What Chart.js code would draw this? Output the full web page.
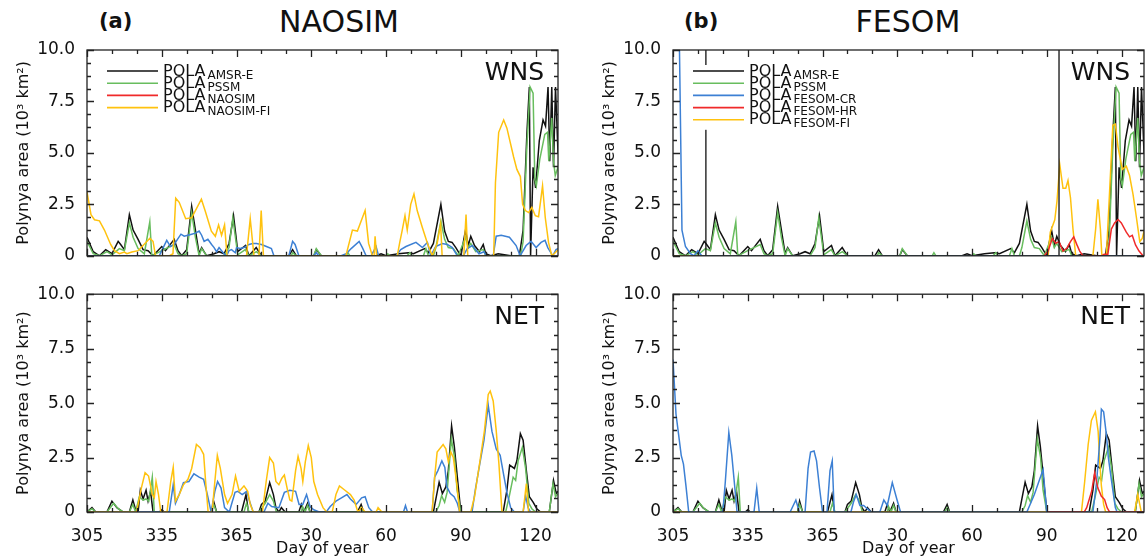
<!DOCTYPE html>
<html>
<head>
<meta charset="utf-8">
<title>Polynya area - NAOSIM / FESOM</title>
<script src="https://cdn.jsdelivr.net/npm/chart.js@4.4.1/dist/chart.umd.min.js"></script>
<style>
  html, body { margin: 0; padding: 0; background: #fff; }
  body { position: relative; width: 1145px; height: 558px; overflow: hidden; font-family: 'DejaVu Sans', sans-serif; color: #111; }
  canvas { position: absolute; }
  .head { position: absolute; white-space: nowrap; line-height: 1; }
</style>
</head>
<body>
<div class="head" style="left:99px; top:11px; font-size:21px; font-weight:bold;">(a)</div>
<div class="head" style="left:339px; top:7px; font-size:30px; transform:translateX(-50%);">NAOSIM</div>
<div class="head" style="left:684px; top:11px; font-size:21px; font-weight:bold;">(b)</div>
<div class="head" style="left:908px; top:7px; font-size:30px; transform:translateX(-50%);">FESOM</div>

<canvas id="naosimWns" width="563" height="270" style="left:0; top:0;"></canvas>
<canvas id="naosimNet" width="563" height="278" style="left:0; top:280px;"></canvas>
<canvas id="fesomWns" width="563" height="270" style="left:586px; top:0;"></canvas>
<canvas id="fesomNet" width="563" height="278" style="left:586px; top:280px;"></canvas>

<script>
// Day counter runs on from 305 (Nov) past 365 into the next year, so 395 = day 30
const dayTicks = [305, 335, 365, 395, 425, 455, 485];
const areaTicks = [0, 2.5, 5, 7.5, 10];
const dayMin = 305;
const dayMax = 494;

// Observations [day, area in 10^3 km2], same in both columns
const wnsAmsrE = [[305,0.9],[307.5,0.2],[310,0],[312.5,0.3],[315,0.1],[317.5,0.7],[318.5,0.55],[320,0.3],[322,2.0],[323.5,1.25],[325.5,0.8],[327.5,0.3],[329.5,0.25],[331.5,0],[335,0.45],[336.5,0.25],[340,0.8],[341.5,0.25],[343,0],[345,0.3],[347,2.4],[348.5,1.25],[350,0.1],[351,0.4],[353,0],[356,0.1],[358,0.2],[360,0.1],[362,0.6],[363.8,1.95],[365.5,0.2],[368.6,0.5],[370,0],[372.9,0.4],[375,0],[386,0],[387.5,0.3],[389,0],[396,0],[397,0.3],[399,0],[421,0],[423,0.1],[425,0],[430,0.1],[434,0.15],[436,0.1],[440.5,0.35],[442,0.15],[444,0.6],[447,2.5],[448.5,1.2],[450,0.7],[451.5,0.65],[453,0.4],[455,0],[456.9,1.25],[458,0.5],[459,0.95],[460.5,0.5],[462.5,0.2],[464,0.55],[465,0.1],[467,0],[470,0.1],[475,0],[478.5,0],[480,1.25],[481.5,5.9],[482.5,8.2],[483,0],[484,4.3],[485,3.3],[486.5,5.6],[488,6.6],[489,6.3],[490,8.2],[490.7,4.6],[491.5,8.2],[492.2,4.3],[493,8.2],[494,5.0]];
const wnsPssm = [[305,0.7],[307.5,0.1],[310,0],[313,0.2],[315,0.05],[318,0.35],[320,0.25],[322,1.6],[323.5,0.9],[325.5,0.35],[328,0.1],[330.2,1.65],[331,0],[335,0.25],[340,0.55],[341.5,0.1],[343,0],[345,0.1],[347,2.1],[348.5,0.9],[350,0],[351,0.35],[353,0],[360,0],[362,0.4],[363.5,1.85],[365.5,0.05],[368.5,0.3],[370,0],[373,0.2],[375,0],[387,0],[387.5,0.15],[389,0],[396,0],[397,0.35],[399,0],[409,0],[409.7,0.15],[410.5,0],[425,0],[425.7,0.1],[426.5,0],[433.5,0],[434.5,0.15],[435.5,0],[440,0],[441,0.35],[442,0],[444,0],[445,0.4],[447,1.7],[448.5,0.8],[450,0.4],[452,0.35],[454,0],[456.9,0.9],[458,0.4],[459,0.6],[461,0.2],[464,0.3],[465,0],[479,0],[480,0.7],[481.5,5.3],[482.8,8.2],[484,7.9],[484.7,3.7],[485.3,3.4],[486.7,4.7],[488.7,5.9],[489.8,6.0],[490.3,4.6],[491.5,6.7],[492.2,4.6],[492.9,3.9],[494,4.3]];
const netAmsrE = [[305,0],[307,0.2],[308.5,0],[313,0],[315,0.5],[317,0.2],[319.5,0],[322,0],[323.4,0.55],[324.5,0.1],[325.5,0],[326.4,1.0],[327.5,0.6],[328.7,1.0],[329.5,0.5],[330.5,0.95],[331.5,0],[334,0],[335,0.1],[336,0],[355,0],[355.8,0.5],[357,0],[367,0],[368.8,0.8],[369.8,0],[374,0],[375,0.35],[376.5,0.5],[378.3,1.35],[379.8,0.8],[380.8,0.2],[382,0],[383,0.2],[384.5,0],[390,0],[391,0.35],[392,0],[393.5,0.4],[394.5,0],[413.5,0],[415,0.35],[416,0],[444,0],[445,0.6],[446.3,1.37],[447.6,0.85],[449,1.15],[450,1.9],[451.3,3.95],[452.4,3.0],[453.6,1.6],[455,0],[472,0],[473.5,1.0],[474.6,2.15],[476.5,2.0],[477.5,2.35],[478.9,3.6],[480,3.3],[481.3,1.9],[482.5,0.7],[484,0.45],[485.5,0.15],[487,0],[490.5,0],[492.2,1.45],[493.3,0.85],[494,0.95]];
const netPssm = [[305,0],[307,0.15],[308.5,0],[313,0],[315.7,0.4],[317.5,0.15],[319.5,0],[322,0],[323.4,0.35],[324.5,0],[326,0.7],[327.5,0.55],[328.7,0.6],[329.8,0.5],[331.2,1.6],[332,0],[355,0],[355.8,0.35],[357,0],[368,0],[369,0.4],[370,0],[374,0],[376.5,0.4],[378.3,0.8],[379.8,0.5],[381,0],[391,0],[391.5,0.25],[392.5,0],[393.5,0.3],[394.5,0],[414,0],[415,0.2],[416,0],[445,0],[446.3,0.3],[447.3,0.75],[448.5,0.45],[449.5,0.9],[451.2,3.35],[452.5,2.5],[453.5,1.0],[455,0],[473,0],[474.5,0.75],[476,1.6],[477,1.45],[478,2.35],[479.7,2.97],[481,2.0],[482.3,0.4],[483.5,0.15],[485,0],[490.5,0],[492,1.3],[493,0.7],[494,0.85]];

// NAOSIM
const wnsNaosim = [[305,0],[334,0],[335,0.25],[337,0.75],[338.5,0.45],[340,0.55],[341.3,0.8],[342.7,1.05],[344,0.95],[345.5,1.0],[347,1.05],[348.5,1.1],[350,1.2],[351,1.0],[352,0.7],[353.5,0.8],[355,0.55],[356,0.4],[357,0.2],[358,0.4],[359,0.25],[360,0.1],[361,0],[362,0.25],[363,0.3],[364.5,0.15],[365,0.4],[366.5,0.35],[368,0.4],[370,0.55],[371.5,0.6],[373,0.6],[375,0.55],[377,0.45],[379,0.35],[380,0],[386,0],[387.5,0.7],[388.5,0.55],[390,0],[396,0],[397,0.15],[398,0],[407,0],[409,0.1],[411,0.35],[414.2,0.7],[415.5,0.4],[417,0],[419,0],[421,0.45],[422,0],[429,0],[430.9,0.3],[433,0.45],[437,0.65],[439.6,0.4],[441.6,0.65],[442.9,0],[444.9,0.45],[447.6,0.6],[449.6,0.55],[451.6,0.4],[453.6,0],[456,0],[457.6,0.35],[459.6,0.5],[462.3,0.1],[464.3,0.2],[465.2,0],[468,0],[469.2,0.95],[471.2,1.0],[474.5,0.9],[477.2,0.5],[478.8,0],[481.2,0.5],[483.2,0.7],[485.2,0.4],[487.2,0.65],[488.8,0.75],[489.9,0.4],[491.9,0],[493.2,0.3],[494,0.35]];
const wnsNaosimFi = [[305,3.1],[306.6,2.0],[308,1.75],[310,1.7],[312,1.25],[314.5,0.55],[316,0.25],[318,0.1],[320,0.18],[321,0.1],[323,0.18],[325.5,0.25],[327.5,0.5],[330.2,0.85],[331.5,0.7],[332.5,0],[338,0],[339.5,0.1],[340.6,2.8],[342,2.6],[344.6,1.8],[347,1.85],[350.9,2.75],[352.5,2.15],[354.9,1.2],[356.5,0.95],[357.8,1.5],[359,1.0],[360.2,1.5],[361.2,0],[369,0],[370.5,1.8],[372,0],[374,0],[374.9,2.2],[375.8,0],[408.9,0],[411.5,1.25],[413.5,1.2],[415.5,1.85],[416.6,2.2],[418,0.6],[419.5,0],[420.2,0],[420.6,0.95],[421.2,0],[429.5,0],[430.5,0.65],[431.5,1.25],[432.6,1.95],[433.5,1.25],[434.9,2.5],[436.2,3.0],[437.5,2.2],[439.5,1.4],[441.5,0.65],[443.5,0],[445.5,0.6],[446.9,1.55],[447.5,0],[456.2,0],[457.1,2.0],[457.8,0],[468.2,0],[468.9,3.55],[470.2,6.0],[472.2,6.6],[473.5,6.2],[476.2,4.8],[477.5,4.2],[478.9,3.85],[479.8,2.5],[480.9,2.2],[482.2,2.1],[483.5,2.35],[484.9,1.95],[486.2,1.9],[487.8,3.4],[488.9,1.85],[490.2,0.65],[491.5,0],[492.9,0.15],[494,0.3]];
const netNaosim = [[305,0],[338,0],[339.6,1.25],[340.5,0.4],[342,0.8],[343.7,1.35],[345.9,1.4],[347.9,1.75],[350,1.6],[351.8,1.5],[353.3,0.8],[354.8,0],[356.3,0.95],[357.4,1.4],[358.8,1.1],[360.2,0.2],[362.1,0],[364.4,0.9],[365.5,0.95],[367.3,0.8],[369.1,0.95],[370.2,0.5],[371.7,0],[376,0],[377.6,0.4],[379.1,0.25],[382,0.2],[384.2,0.9],[386.4,1.0],[388.7,0.95],[390.1,0.35],[391.6,0.35],[393.1,0.8],[394.5,0.25],[396,0.1],[398.2,0],[401,0],[402.6,0.25],[404.9,0.5],[407.1,0.65],[409.3,0.8],[410.7,0.6],[413,0.35],[415.2,0.65],[416.6,0.7],[418.1,0.2],[419.6,0],[432,0],[432.8,0.3],[433.6,0],[443.5,0],[444.5,1.6],[445.8,1.9],[447.4,2.35],[448.6,2.05],[449.4,1.15],[450.8,0.85],[452.3,0.7],[453.6,0.4],[454.6,0],[459.5,0],[460.8,1.0],[462.3,2.0],[464.3,3.3],[466,4.9],[467.5,3.7],[469.2,2.9],[470.8,2.6],[472.2,1.7],[473.5,0.9],[475,0.2],[476.5,0],[480,0],[481,0.75],[482,0.2],[483,0],[494,0]];
const netNaosimFi = [[305,0],[324.9,0],[326.8,1.1],[328.3,1.8],[329.7,1.65],[331.2,0.8],[332,0.65],[332.7,1.4],[333.7,0.8],[334.6,0],[337.1,0],[338.6,1.4],[339.6,2.05],[340.5,0.5],[342,0.8],[343.7,1.25],[345.5,1.5],[347,2.0],[348.9,3.1],[350.4,2.95],[351.8,2.65],[352.6,1.4],[353.6,0],[355.2,0],[356.3,1.4],[357.3,2.6],[358.5,2.0],[360.2,0.8],[361.4,0.4],[363.2,0.8],[364.6,1.65],[366.1,0.95],[368,1.2],[369.5,0.95],[370.5,0.35],[371.7,0],[375.4,0],[376.9,1.4],[378.3,2.5],[379.8,2.25],[380.8,1.4],[382,1.25],[383.2,1.55],[384.2,1.7],[385.3,1.1],[386.4,0.55],[387.2,0.5],[388.7,1.9],[389.7,2.55],[390.9,2.0],[391.6,1.4],[392.6,2.3],[393.8,3.05],[395,2.5],[396,1.4],[397.5,0.8],[399.7,0.2],[401.2,0],[403.4,0],[404.9,0.8],[406.3,1.2],[408.5,1.0],[410.7,0.8],[412.2,0.55],[413.7,0],[415.2,0.2],[416.6,0],[421,0],[421.8,0.2],[423.3,0],[443.5,0],[444.5,1.6],[445.5,2.75],[447.9,3.1],[449,2.9],[450,2.3],[451,2.75],[452,2.5],[453.5,1.2],[454.5,0],[459,0],[460.5,0.7],[462.5,2.2],[464.5,3.75],[466,5.4],[466.8,5.55],[468,5.1],[469.2,3.75],[470.3,2.2],[471.5,0],[480,0],[481.3,1.3],[482.2,0],[494,0]];

// FESOM
const wnsFesomCr = [[305,40],[307.6,10],[308.6,1.25],[310,0.45],[312,0.1],[313.5,0],[315,0.25],[316.5,0],[494,0]];
const wnsFesomHr = [[454,0],[455.5,0.23],[457.2,0.84],[458.6,0.61],[459.9,0.69],[461.5,0.23],[463.1,0.38],[464.5,0.69],[465.8,0.92],[467.1,0.53],[468.2,0.23],[469.5,0],[477,0],[478,0.08],[479.5,0.08],[480.9,1.3],[482.2,1.6],[483.6,1.76],[484.9,1.6],[486.9,1.15],[488.2,0.92],[489.3,0.99],[490.6,0.53],[492,0.23],[493.6,0],[494,0]];
const wnsFesomFi = [[305,0],[455.5,0],[456.4,1.15],[458.2,1.75],[459.1,2.67],[460.2,4.43],[461.5,3.28],[462.6,3.28],[463.5,3.66],[464.5,2.82],[465.5,1.3],[466.6,0],[473.5,0],[474.6,1.3],[475.5,2.75],[476.5,1.3],[477.1,0],[478.9,0],[480.2,3.13],[481.5,6.34],[482.5,6.4],[483.6,5.27],[485.3,4.2],[486.9,4.35],[488.2,3.9],[489.6,2.98],[490.9,1.91],[492.3,0.69],[493.3,0.84],[494,1.2]];
const wnsFesomMarkers = [318.2, 459.9];
const netFesomCr = [[305,7.0],[306.2,4.5],[307.2,3.6],[308.3,2.6],[309.2,2.2],[310.2,1.2],[311.3,0],[325,0],[326,1.4],[327.4,3.65],[328.6,2.6],[329.7,1.25],[330.7,0],[337.5,0],[338.6,1.1],[339.6,0],[352,0],[354.3,0.55],[355.7,0],[358,0],[359.2,2.0],[360.2,2.75],[361.6,2.8],[362.6,2.35],[363.8,1.1],[365,0],[366.8,0],[368,1.9],[368.9,2.35],[369.7,0],[376.4,0],[377.4,0.45],[378.5,0.8],[380,0.3],[381.5,0.3],[383,0.15],[384.5,0],[388,0],[389.6,0.55],[391,0.3],[393,1.35],[394.8,0.6],[396.3,0],[447,0],[450,0.8],[453.5,1.95],[455,0],[473.5,0],[475,1.4],[476.2,3.2],[476.9,4.72],[477.8,4.6],[478.9,3.55],[479.7,2.5],[481,1.4],[482.5,0.2],[483.2,0],[494,0]];
const netFesomHr = [[455.5,0],[470,0],[471,0.2],[473,0.95],[474.2,1.8],[475.5,1.1],[476.9,0.72],[478.2,0.57],[479.2,0.2],[480.2,0],[494,0]];
const netFesomFi = [[305,0],[468.9,0],[470.2,1.4],[471.6,3.1],[472.9,4.2],[474.5,4.6],[475.6,3.7],[476.2,2.35],[476.9,1.2],[477.8,0.35],[478.6,0],[490.2,0],[491.5,0.8],[492.9,0],[494,0]];

const colBlack = '#111111';
const colGreen = '#68bd5e';
const colBlue = '#3d80d4';
const colRed = '#f02a2a';
const colYellow = '#ffc20e';
const fontFamily = "'DejaVu Sans', sans-serif";

const naosimLegend = [['AMSR-E', colBlack], ['PSSM', colGreen], ['NAOSIM', colRed], ['NAOSIM-FI', colYellow]];
const fesomLegend = [['AMSR-E', colBlack], ['PSSM', colGreen], ['FESOM-CR', colBlue], ['FESOM-HR', colRed], ['FESOM-FI', colYellow]];

function toXY(pairs) {
    return pairs.map(p => ({ x: p[0], y: p[1] }));
}

function dayLabel(v) {
    return v > 365 ? v - 365 : v;
}

function line(pairs, color) {
    return { data: toXY(pairs), borderColor: color, backgroundColor: color };
}

// full-height vertical lines (gaps between them)
function markerLines(days) {
    const pts = [];
    days.forEach(d => {
        pts.push({ x: d, y: 0 }, { x: d, y: 10 }, { x: d, y: null });
    });
    return { data: pts, borderColor: colBlack, borderWidth: 1.3, spanGaps: false };
}

// box round the plot with inward ticks on all four sides
const frameTicks = {
    id: 'frameTicks',
    afterDatasetsDraw(chart) {
        const { ctx, chartArea: a, scales } = chart;
        const x = scales.x, y = scales.y;
        ctx.save();
        ctx.strokeStyle = '#222';
        ctx.lineWidth = 1.3;
        ctx.beginPath();
        for (let d = dayMin; d <= dayMax; d += 10) {
            const px = Math.round(x.getPixelForValue(d)) + 0.5;
            const len = (d - dayMin) % 30 === 0 ? 7 : 4;
            ctx.moveTo(px, a.bottom); ctx.lineTo(px, a.bottom - len);
            ctx.moveTo(px, a.top); ctx.lineTo(px, a.top + len);
        }
        for (let i = 0; i <= 16; i++) {
            const py = Math.round(y.getPixelForValue(i * 0.625)) + 0.5;
            const len = i % 4 === 0 ? 7 : 4;
            ctx.moveTo(a.left, py); ctx.lineTo(a.left + len, py);
            ctx.moveTo(a.right, py); ctx.lineTo(a.right - len, py);
        }
        ctx.stroke();
        ctx.strokeRect(a.left, a.top, a.right - a.left, a.bottom - a.top);
        ctx.restore();
    }
};

// legend "POLA" with subscripts, drawn by hand since Chart.js cannot do subscripts
const polaLegend = {
    id: 'polaLegend',
    afterDraw(chart, args, opts) {
        if (!opts.items) return;
        const { ctx, chartArea: a } = chart;
        const x0 = a.left + 20;
        const y0 = a.top + 21;
        const step = 12.2;
        ctx.save();
        ctx.fillStyle = '#fff';
        ctx.fillRect(x0 - 4, y0 - 6, 175, step * (opts.items.length - 1) + 16);
        opts.items.forEach((it, i) => {
            const yy = y0 + i * step;
            ctx.strokeStyle = it[1];
            ctx.lineWidth = 1.6;
            ctx.beginPath();
            ctx.moveTo(x0, yy);
            ctx.lineTo(x0 + 51, yy);
            ctx.stroke();
            ctx.fillStyle = '#111';
            ctx.textBaseline = 'alphabetic';
            ctx.font = '16px ' + fontFamily;
            ctx.fillText('POLA', x0 + 56, yy + 4.5);
            const w = ctx.measureText('POLA').width;
            ctx.font = '12px ' + fontFamily;
            ctx.fillText(it[0], x0 + 56 + w + 2, yy + 7.5);
        });
        ctx.restore();
    }
};

const regionLabel = {
    id: 'regionLabel',
    afterDraw(chart, args, opts) {
        const { ctx, chartArea: a } = chart;
        ctx.save();
        ctx.font = '25px ' + fontFamily;
        ctx.fillStyle = '#111';
        ctx.textAlign = 'right';
        ctx.textBaseline = 'alphabetic';
        ctx.fillText(opts.text, a.right - 14, a.top + 30);
        ctx.restore();
    }
};

function makePanel(id, datasets, region, legendItems, showX) {
    // first dataset is drawn on top in Chart.js, so flip the bottom-to-top list
    const ordered = datasets.slice().reverse();
    return new Chart(document.getElementById(id), {
        type: 'line',
        data: { datasets: ordered },
        options: {
            responsive: false,
            animation: false,
            layout: {
                autoPadding: false,
                padding: { top: showX ? 13 : 50, right: 5, bottom: showX ? 0 : 3, left: 0 }
            },
            elements: {
                point: { radius: 0, hoverRadius: 0 },
                line: { borderWidth: 1.5, tension: 0 }
            },
            plugins: {
                legend: { display: false },
                tooltip: { enabled: false },
                polaLegend: { items: legendItems },
                regionLabel: { text: region }
            },
            scales: {
                x: {
                    type: 'linear',
                    min: dayMin,
                    max: dayMax,
                    grid: { display: false },
                    border: { display: false },
                    afterBuildTicks: s => { s.ticks = dayTicks.map(v => ({ value: v })); },
                    ticks: {
                        display: showX,
                        autoSkip: false,
                        maxRotation: 0,
                        padding: 6,
                        color: '#111',
                        font: { family: fontFamily, size: 17 },
                        callback: v => dayLabel(v)
                    },
                    title: {
                        display: showX,
                        text: 'Day of year',
                        color: '#111',
                        font: { family: fontFamily, size: 16 },
                        padding: { top: 0, bottom: 0 }
                    },
                    afterFit: s => { s.height = showX ? 46 : 0; }
                },
                y: {
                    min: 0,
                    max: 10,
                    grid: { display: false },
                    border: { display: false },
                    afterBuildTicks: s => { s.ticks = areaTicks.map(v => ({ value: v })); },
                    ticks: {
                        padding: 4,
                        color: '#111',
                        font: { family: fontFamily, size: 17 },
                        callback: v => v === 0 ? '0' : v.toFixed(1)
                    },
                    title: {
                        display: true,
                        text: 'Polynya area (10\u00B3 km\u00B2)',
                        color: '#111',
                        font: { family: fontFamily, size: 16 },
                        padding: { top: 14, bottom: 0 }
                    },
                    afterFit: s => { s.width = 87; }
                }
            }
        },
        plugins: [frameTicks, polaLegend, regionLabel]
    });
}

makePanel('naosimWns', [
    line(wnsAmsrE, colBlack),
    line(wnsPssm, colGreen),
    line(wnsNaosim, colBlue),
    line(wnsNaosimFi, colYellow)
], 'WNS', naosimLegend, false);

makePanel('naosimNet', [
    line(netAmsrE, colBlack),
    line(netPssm, colGreen),
    line(netNaosim, colBlue),
    line(netNaosimFi, colYellow)
], 'NET', null, true);

makePanel('fesomWns', [
    line(wnsAmsrE, colBlack),
    line(wnsPssm, colGreen),
    line(wnsFesomFi, colYellow),
    line(wnsFesomCr, colBlue),
    line(wnsFesomHr, colRed),
    markerLines(wnsFesomMarkers)
], 'WNS', fesomLegend, false);

makePanel('fesomNet', [
    line(netAmsrE, colBlack),
    line(netPssm, colGreen),
    line(netFesomFi, colYellow),
    line(netFesomCr, colBlue),
    line(netFesomHr, colRed)
], 'NET', null, true);
</script>
</body>
</html>
